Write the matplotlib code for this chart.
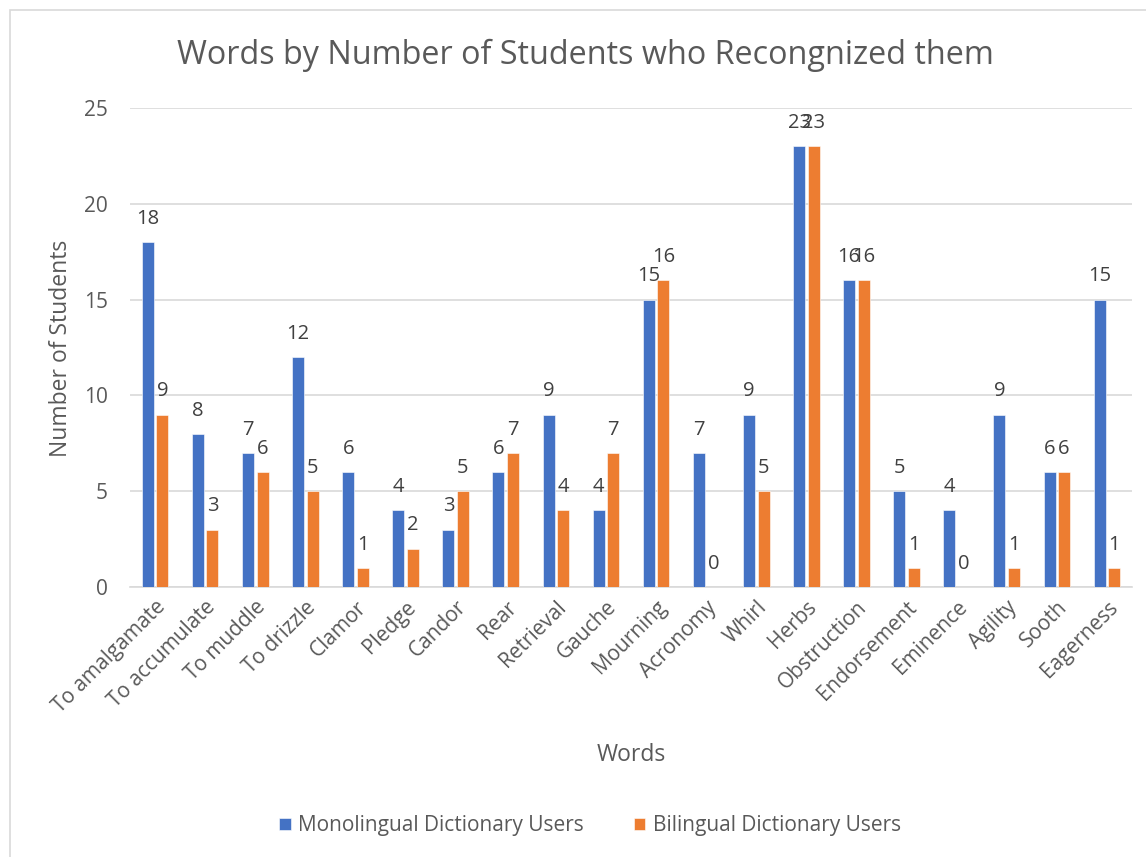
import matplotlib.pyplot as plt
import numpy as np
from matplotlib.patches import Rectangle

words = ["To amalgamate", "To accumulate", "To muddle", "To drizzle", "Clamor",
         "Pledge", "Candor", "Rear", "Retrieval", "Gauche", "Mourning",
         "Acronomy", "Whirl", "Herbs", "Obstruction", "Endorsement",
         "Eminence", "Agility", "Sooth", "Eagerness"]
monolingual = [18, 8, 7, 12, 6, 4, 3, 6, 9, 4, 15, 7, 9, 23, 16, 5, 4, 9, 6, 15]
bilingual = [9, 3, 6, 5, 1, 2, 5, 7, 4, 7, 16, 0, 5, 23, 16, 1, 0, 1, 6, 1]

BLUE = "#4472C4"
ORANGE = "#ED7D31"
TXT = "#595959"
GRID = "#D9D9D9"

plt.rcParams["font.family"] = ["Open Sans", "DejaVu Sans"]

W, H = 1146, 857
fig = plt.figure(figsize=(W / 100, H / 100), dpi=100)
# chart area frame (only top and left edges fall inside the image)
fig.patches.append(Rectangle((10 / W, -0.05), 1.0, 1 - 10 / H + 0.05,
                             transform=fig.transFigure, fill=False,
                             edgecolor=GRID, linewidth=1.2))

ax = fig.add_axes([130 / W, 1 - 587 / H, 1002 / W, 479 / H])

x = np.arange(len(words))
w = 0.24
off = 0.145
b1 = ax.bar(x - off, monolingual, w, color=BLUE, edgecolor="white", linewidth=0.4,
            label="Monolingual Dictionary Users", zorder=3)
b2 = ax.bar(x + off, bilingual, w, color=ORANGE, edgecolor="white", linewidth=0.4,
            label="Bilingual Dictionary Users", zorder=3)
for bars in (b1, b2):
    ax.bar_label(bars, padding=9.5, fontsize=14.5, color="#404040")

ax.set_xlim(-0.5, len(words) - 0.5)
ax.set_ylim(0, 25)
ax.set_yticks(range(0, 26, 5))
ax.yaxis.grid(True, color=GRID, linewidth=1.2, zorder=0)
for s in ("top", "right", "left"):
    ax.spines[s].set_visible(False)
ax.spines["bottom"].set_color(GRID)
ax.spines["bottom"].set_linewidth(1.2)
ax.tick_params(axis="both", length=0, labelsize=15, labelcolor=TXT)
ax.tick_params(axis="y", pad=16)

ax.set_xticks(x)
ax.set_xticklabels(words, rotation=45, ha="right", va="top",
                   rotation_mode="anchor")
ax.tick_params(axis="x", pad=7)

fig.text(585 / W, 1 - 55 / H, "Words by Number of Students who Recongnized them",
         fontsize=23.3, color=TXT, ha="center", va="center")
fig.text(61 / W, 1 - 348 / H, "Number of Students", fontsize=16.5, color=TXT,
         ha="center", va="center", rotation=90)
fig.text(631 / W, 1 - 755 / H, "Words", fontsize=16.5, color=TXT,
         ha="center", va="center")

fig.legend(handles=[b1, b2], loc="center", bbox_to_anchor=(590 / W, 1 - 826 / H),
           ncol=2, frameon=False, fontsize=15, labelcolor=TXT,
           handlelength=0.55, handleheight=0.55, columnspacing=2.4,
           handletextpad=0.35)

fig.savefig("out.png", dpi=100)
